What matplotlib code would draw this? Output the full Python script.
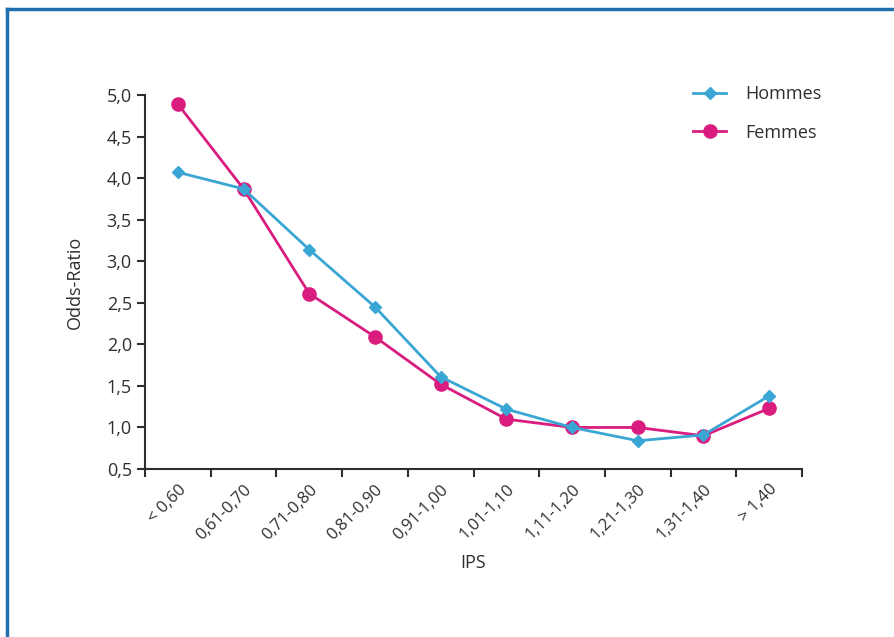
import matplotlib.pyplot as plt
from matplotlib.lines import Line2D

plt.rcParams["font.family"] = ["Open Sans", "DejaVu Sans"]

categories = ["< 0,60", "0,61-0,70", "0,71-0,80", "0,81-0,90", "0,91-1,00",
              "1,01-1,10", "1,11-1,20", "1,21-1,30", "1,31-1,40", "> 1,40"]
hommes = [4.07, 3.87, 3.14, 2.45, 1.61, 1.22, 1.00, 0.84, 0.91, 1.38]
femmes = [4.89, 3.87, 2.61, 2.09, 1.52, 1.10, 1.00, 1.00, 0.90, 1.23]
yticks = [0.5, 1.0, 1.5, 2.0, 2.5, 3.0, 3.5, 4.0, 4.5, 5.0]

blue = "#3aa6d3"
pink = "#d91c7e"
dark = "#2e2e2e"

fig = plt.figure(figsize=(8.94, 6.37), dpi=100)
ax = fig.add_axes([0.1622, 0.2637, 0.7349, 0.5872])

# blue frame (only top and left visible in the crop)
fig.add_artist(Line2D([0.0075, 1.0], [0.986, 0.986], transform=fig.transFigure,
                      color="#1f6fae", lw=2.5))
fig.add_artist(Line2D([0.0075, 0.0075], [0.0, 0.986], transform=fig.transFigure,
                      color="#1f6fae", lw=2.5))

x = [i + 0.5 for i in range(len(categories))]
ax.plot(x, hommes, color=blue, lw=2, marker="D", ms=6.5, label="Hommes", zorder=3)
ax.plot(x, femmes, color=pink, lw=2, marker="o", ms=9.5, label="Femmes", zorder=2)

ax.set_xlim(0, len(categories))
ax.set_ylim(0.5, 5.0)
ax.set_yticks(yticks)
ax.set_yticklabels([f"{v:.1f}".replace(".", ",") for v in yticks])
ax.set_xticks(range(len(categories) + 1))
ax.set_xticklabels([])
ax.set_xticks(x, minor=True)
ax.set_xticklabels(categories, minor=True, rotation=45, ha="right",
                   rotation_mode="anchor")
ax.tick_params(which="both", labelsize=12, labelcolor=dark)
ax.tick_params(axis="y", labelsize=13)
ax.tick_params(axis="x", which="minor", length=0, pad=9)
ax.tick_params(which="major", length=6, width=1.5, color=dark, direction="out")

for s in ["top", "right"]:
    ax.spines[s].set_visible(False)
for s in ["left", "bottom"]:
    ax.spines[s].set_linewidth(1.5)
    ax.spines[s].set_color(dark)

ax.set_ylabel("Odds-Ratio", fontsize=13, color=dark, labelpad=16)
ax.set_xlabel("IPS", fontsize=13, color=dark, labelpad=8)

ax.legend(loc="upper right", bbox_to_anchor=(1.055, 1.07), frameon=False,
          fontsize=13, handlelength=1.8, handletextpad=1.1, labelspacing=1.15,
          labelcolor=dark)

fig.savefig("out.png", dpi=100)
